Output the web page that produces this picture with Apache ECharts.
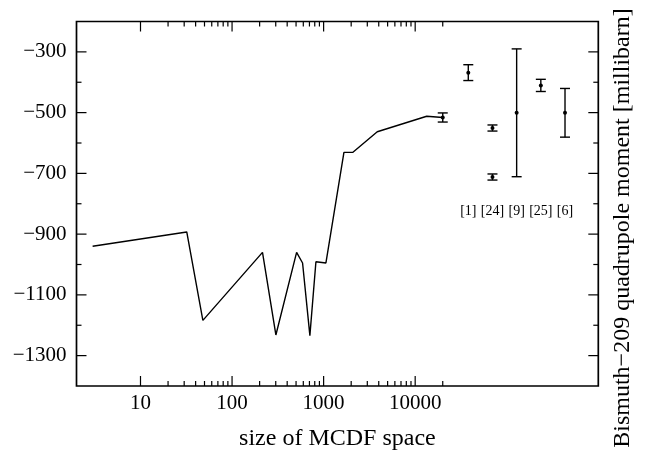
<!DOCTYPE html>
<html>
<head>
<meta charset="utf-8">
<script src="https://cdn.jsdelivr.net/npm/echarts@6/dist/echarts.min.js"></script>
<style>html,body{margin:0;padding:0;background:#fff;}#c{width:646px;height:456px;}</style>
</head>
<body>
<div id="c"></div>
<script>
// ---- data ----
const mcdfSize = [3, 32, 48, 215, 301, 507, 589, 708, 824, 1060, 1667, 2075, 3855, 13370, 20000];
const quadMoment = [-940, -893, -1184, -960, -1232, -960, -995, -1234, -991, -995, -631, -631, -563, -512, -516];
const thisWorkX = [20000];
const thisWorkValue = [-516];
const thisWorkError = [15];
const refLabels = ['[1]', '[24]', '[9]', '[25]', '[6]'];
const refPointLabel = ['[1]', '[24]', '[24]', '[9]', '[25]', '[6]'];
const refValue = [-368, -550, -711, -500, -410, -500];
const refError = [26, 10, 10, 210, 20, 80];
const xMajorTicks = [10, 100, 1000, 10000];
const xMinorTicks = [20, 30, 40, 50, 60, 70, 80, 90, 200, 300, 400, 500, 600, 700, 800, 900,
  2000, 3000, 4000, 5000, 6000, 7000, 8000, 9000, 20000];
const yMajorTicks = [-1300, -1100, -900, -700, -500, -300];
const yMinorTicks = [-1200, -1000, -800, -600, -400];

const FONT = 'Liberation Serif';
const chart = echarts.init(document.getElementById('c'));

function errorBar(params, api) {
  const x = api.value(0), v = api.value(1), e = api.value(2);
  const c = api.coord([x, v]);
  const t = api.coord([x, v + e]);
  const b = api.coord([x, v - e]);
  const hw = 5;
  const st = { stroke: '#000', lineWidth: 1.4 };
  return {
    type: 'group',
    children: [
      { type: 'line', shape: { x1: c[0], y1: t[1], x2: c[0], y2: b[1] }, style: st },
      { type: 'line', shape: { x1: c[0] - hw, y1: t[1], x2: c[0] + hw, y2: t[1] }, style: st },
      { type: 'line', shape: { x1: c[0] - hw, y1: b[1], x2: c[0] + hw, y2: b[1] }, style: st },
      { type: 'circle', shape: { cx: c[0], cy: c[1], r: 2 }, style: { fill: '#000' } }
    ]
  };
}

function xTick(params, api) {
  const cs = params.coordSys;
  const x = api.coord([api.value(0), -800])[0];
  const len = api.value(2) ? 10 : 5;
  const st = { stroke: '#000', lineWidth: 1.2 };
  return {
    type: 'group',
    children: [
      { type: 'line', shape: { x1: x, y1: cs.y + cs.height, x2: x, y2: cs.y + cs.height - len }, style: st },
      { type: 'line', shape: { x1: x, y1: cs.y, x2: x, y2: cs.y + len }, style: st }
    ]
  };
}

function yTick(params, api) {
  const cs = params.coordSys;
  const y = api.coord([10, api.value(1)])[1];
  const len = api.value(2) ? 10 : 5;
  const st = { stroke: '#000', lineWidth: 1.2 };
  return {
    type: 'group',
    children: [
      { type: 'line', shape: { x1: cs.x, y1: y, x2: cs.x + len, y2: y }, style: st },
      { type: 'line', shape: { x1: cs.x + cs.width, y1: y, x2: cs.x + cs.width - len, y2: y }, style: st }
    ]
  };
}

const xTickData = xMajorTicks.map(v => [v, -800, 1]).concat(xMinorTicks.map(v => [v, -800, 0]));
const yTickData = yMajorTicks.map(v => [10, v, 1]).concat(yMinorTicks.map(v => [10, v, 0]));

chart.setOption({
  animation: false,
  backgroundColor: '#fff',
  textStyle: { fontFamily: FONT, color: '#000' },
  grid: [
    { left: 76.5, right: 47.7, top: 21.5, bottom: 69.3, show: true, borderColor: '#000', borderWidth: 1.7, backgroundColor: 'transparent' },
    { left: 456.2, right: 68.9, top: 21.5, bottom: 69.3, show: false }
  ],
  xAxis: [
    {
      type: 'log', logBase: 10, min: 2, max: 1000000, gridIndex: 0,
      axisLine: { show: false }, axisTick: { show: false }, splitLine: { show: false }, minorTick: { show: false },
      axisLabel: {
        fontFamily: FONT, fontSize: 21, color: '#000', margin: 7,
        formatter: function (v) {
          const l = Math.log10(v);
          const r = Math.round(l);
          if (Math.abs(l - r) < 1e-6 && r >= 1 && r <= 4) return String(Math.pow(10, r));
          return '';
        }
      },
      name: 'size of MCDF space', nameLocation: 'middle', nameGap: 41,
      nameTextStyle: { fontFamily: FONT, fontSize: 24, color: '#000' }
    },
    {
      type: 'category', gridIndex: 1, data: refLabels, position: 'bottom', offset: -182,
      axisLine: { show: false }, axisTick: { show: false }, splitLine: { show: false },
      axisLabel: { interval: 0, hideOverlap: false, margin: 0, fontFamily: FONT, fontSize: 14, color: '#000' }
    }
  ],
  yAxis: [
    {
      type: 'value', min: -1400, max: -200, interval: 100, gridIndex: 0,
      axisLine: { show: false }, axisTick: { show: false }, splitLine: { show: false },
      axisLabel: {
        fontFamily: FONT, fontSize: 21, color: '#000', margin: 10,
        formatter: function (v) {
          const h = Math.round(v / 100);
          if (Math.abs(h) % 2 === 1) return '\u2212' + Math.abs(v);
          return '';
        }
      }
    },
    { type: 'value', min: -1400, max: -200, gridIndex: 1, show: false }
  ],
  graphic: [
    {
      type: 'text', x: 623, y: 228, rotation: Math.PI / 2,
      style: {
        text: 'Bismuth\u2212209 quadrupole moment [millibarn]',
        font: '24px "Liberation Serif"', fill: '#000',
        textAlign: 'center', textVerticalAlign: 'middle'
      }
    }
  ],
  series: [
    {
      type: 'line', xAxisIndex: 0, yAxisIndex: 0,
      data: mcdfSize.map((x, i) => [x, quadMoment[i]]),
      symbol: 'none', lineStyle: { color: '#000', width: 1.4 }
    },
    {
      type: 'custom', xAxisIndex: 0, yAxisIndex: 0, renderItem: errorBar,
      data: thisWorkX.map((x, i) => [x, thisWorkValue[i], thisWorkError[i]])
    },
    {
      type: 'custom', xAxisIndex: 1, yAxisIndex: 1, renderItem: errorBar,
      data: refPointLabel.map((l, i) => [l, refValue[i], refError[i]])
    },
    { type: 'custom', xAxisIndex: 0, yAxisIndex: 0, renderItem: xTick, data: xTickData, silent: true },
    { type: 'custom', xAxisIndex: 0, yAxisIndex: 0, renderItem: yTick, data: yTickData, silent: true }
  ]
});
</script>
</body>
</html>
